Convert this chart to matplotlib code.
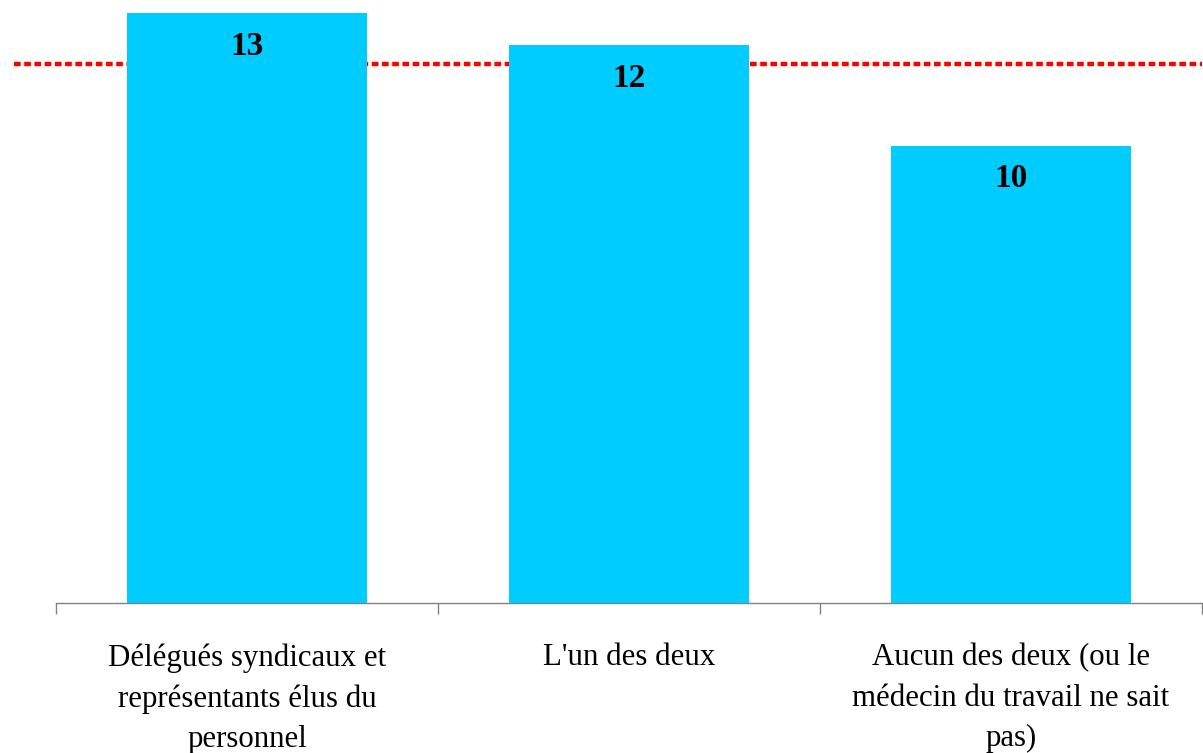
import matplotlib.pyplot as plt
import numpy as np

plt.rcParams['font.family'] = ['Liberation Serif', 'DejaVu Serif']

categories = ["Délégués syndicaux et\nreprésentants élus du\npersonnel",
              "L'un des deux",
              "Aucun des deux (ou le\nmédecin du travail ne sait\npas)"]
values = [12.9, 12.2, 10.0]
moyenne = 11.8

fig = plt.figure(figsize=(12.03, 7.53), dpi=100)
ax = fig.add_axes([56 / 1203, 150 / 753, 1146 / 1203, 603 / 753])

x = np.arange(len(categories))
ax.bar(x, values, width=0.63, color="#00CCFF", zorder=3)

# ligne de la moyenne, qui deborde a gauche de l'axe
ax.axhline(moyenne, xmin=-0.037, xmax=1.0, color="#FF0000", lw=3.2,
           linestyle=(0, (1.5, 0.8)), clip_on=False, zorder=2)

for xi, v in zip(x, values):
    ax.text(xi, v - 0.72, f"{v:.0f}", ha="center", va="center",
            fontsize=24, fontweight="bold", zorder=4)

ax.set_xlim(-0.5, len(categories) - 0.5)
ax.set_ylim(0, 13.19)

# traits aux limites des categories, libelles au centre
ax.set_xticks(np.arange(len(categories) + 1) - 0.5)
ax.set_xticklabels([])
ax.tick_params(axis="x", which="major", length=8, color="#808080", width=1)
ax.set_xticks(x, minor=True)
ax.set_xticklabels(categories, minor=True, fontsize=22.2, linespacing=1.5)
ax.tick_params(axis="x", which="minor", length=0, pad=29)

ax.set_yticks([])
for side in ["left", "right", "top"]:
    ax.spines[side].set_visible(False)
ax.spines["bottom"].set_color("#808080")
ax.spines["bottom"].set_linewidth(1)

fig.savefig("out.png", dpi=100)
